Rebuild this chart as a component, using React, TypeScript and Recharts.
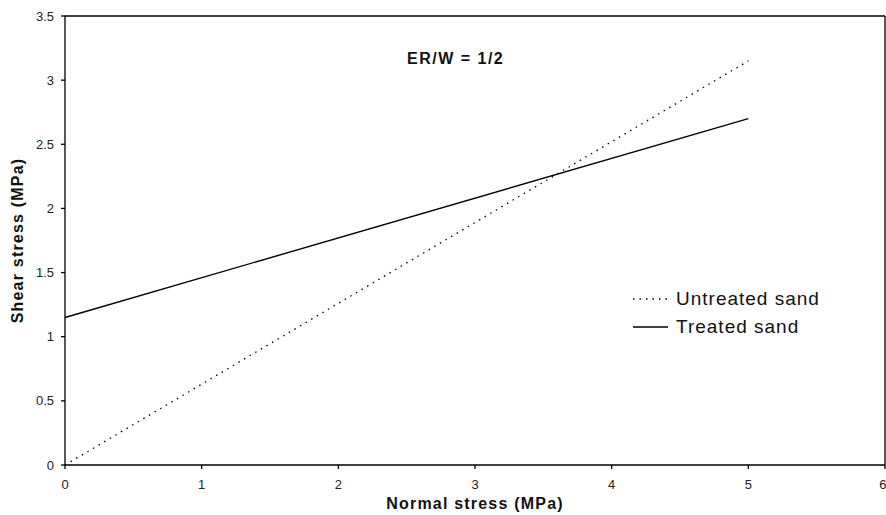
import React from 'react'
import {
  LineChart,
  Line,
  XAxis,
  YAxis,
  ReferenceLine,
} from 'recharts'

// normal stress (MPa) at the two ends of each fitted line
const normalStress = [0, 5]
const untreatedSand = [0, 3.15]
const treatedSand = [1.15, 2.7]

const xTicks = [0, 1, 2, 3, 4, 5, 6]
const yTicks = [0, 0.5, 1, 1.5, 2, 2.5, 3, 3.5]

const data = normalStress.map((x, i) => ({
  x,
  untreated: untreatedSand[i],
  treated: treatedSand[i],
}))

const font = 'Arial, "Liberation Sans", sans-serif'
const tickStyle = { fill: '#222', fontSize: 13, fontFamily: font }

const LegendBox = () => (
  <div
    style={{
      position: 'absolute',
      left: 633,
      top: 285,
      fontFamily: font,
      fontSize: 19,
      letterSpacing: 1,
      color: '#111',
    }}
  >
    <div style={{ display: 'flex', alignItems: 'center', height: 28 }}>
      <svg width={43} height={10}>
        <line x1={0} y1={5} x2={35} y2={5} stroke="#000" strokeWidth={1.3} strokeDasharray="1.5 5" />
      </svg>
      <span>Untreated sand</span>
    </div>
    <div style={{ display: 'flex', alignItems: 'center', height: 28 }}>
      <svg width={43} height={10}>
        <line x1={0} y1={5} x2={35} y2={5} stroke="#000" strokeWidth={1.4} />
      </svg>
      <span>Treated sand</span>
    </div>
  </div>
)

export default function App() {
  return (
    <div style={{ position: 'absolute', left: 0, top: 0, width: 886, height: 515, background: '#fff' }}>
      <LineChart
        width={886}
        height={515}
        data={data}
        margin={{ top: 16, right: 1, bottom: 20, left: 0 }}
      >
        <XAxis
          dataKey="x"
          type="number"
          domain={[0, 6]}
          ticks={xTicks}
          tick={tickStyle}
          tickSize={4}
          tickMargin={11}
          height={30}
          stroke="#000"
          strokeWidth={1.3}
          label={{
            value: 'Normal stress (MPa)',
            position: 'bottom',
            offset: 3,
            style: { fontFamily: font, fontSize: 16, fontWeight: 'bold', letterSpacing: 1.2, fill: '#111' },
          }}
        />
        <YAxis
          type="number"
          domain={[0, 3.5]}
          ticks={yTicks}
          tick={tickStyle}
          tickSize={4}
          tickMargin={7}
          width={65}
          stroke="#000"
          strokeWidth={1.3}
          label={{
            value: 'Shear stress (MPa)',
            angle: -90,
            position: 'insideLeft',
            offset: 17,
            style: { textAnchor: 'middle', fontFamily: font, fontSize: 16, fontWeight: 'bold', letterSpacing: 1.2, fill: '#111' },
          }}
        />
        <ReferenceLine y={3.5} stroke="#000" strokeWidth={1.3} />
        <ReferenceLine x={6} stroke="#000" strokeWidth={1.3} />
        <ReferenceLine
          y={3.5}
          stroke="none"
          label={{
            value: 'ER/W = 1/2',
            position: 'insideTopLeft',
            dx: 337,
            dy: 32,
            style: { fontFamily: font, fontSize: 16, fontWeight: 'bold', letterSpacing: 1.5, fill: '#111' },
          }}
        />
        <Line
          dataKey="untreated"
          name="Untreated sand"
          stroke="#000"
          strokeWidth={1.3}
          strokeDasharray="1.5 5"
          dot={false}
          isAnimationActive={false}
        />
        <Line
          dataKey="treated"
          name="Treated sand"
          stroke="#000"
          strokeWidth={1.4}
          dot={false}
          isAnimationActive={false}
        />
      </LineChart>
      <LegendBox />
    </div>
  )
}
